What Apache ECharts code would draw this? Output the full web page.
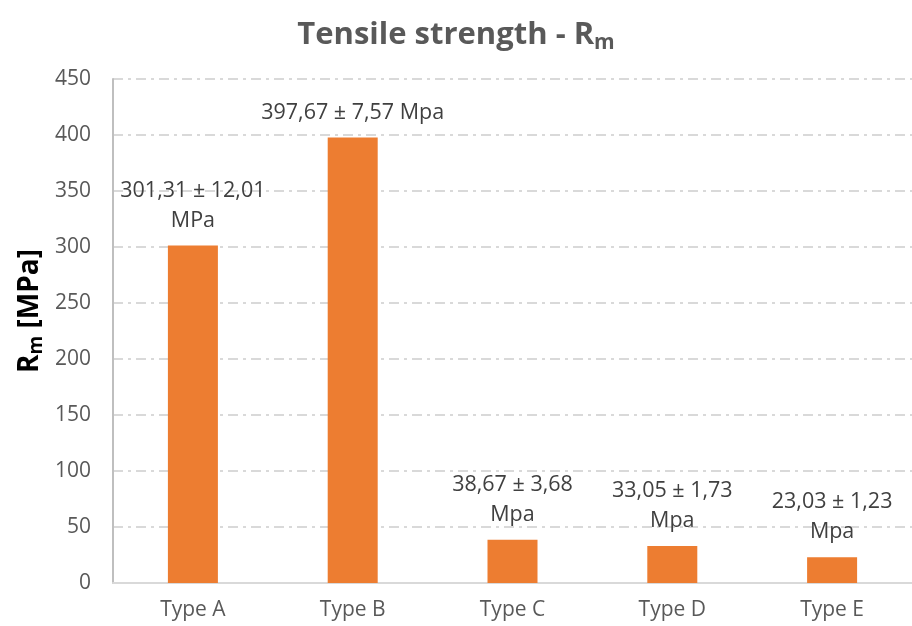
<!DOCTYPE html>
<html>
<head>
<meta charset="utf-8">
<script src="https://cdn.jsdelivr.net/npm/echarts@6/dist/echarts.min.js"></script>
<style>
  html, body { margin: 0; padding: 0; background: #fff; }
  #chart { width: 912px; height: 626px; }
</style>
</head>
<body>
<div id="chart"></div>
<script>
// Tensile strength per specimen type (mean ± standard deviation)
const categories = ['Type A', 'Type B', 'Type C', 'Type D', 'Type E'];
const strength = [301.31, 397.67, 38.67, 33.05, 23.03];
const deviation = [12.01, 7.57, 3.68, 1.73, 1.23];
const units = ['MPa', 'Mpa', 'Mpa', 'Mpa', 'Mpa'];
const unitOnSameLine = [false, true, false, false, false];
const yTicks = [0, 50, 100, 150, 200, 250, 300, 350, 400, 450];

const FONT = '"Open Sans", sans-serif';
const fmt = v => v.toFixed(2).replace('.', ',');
const labelText = i =>
  fmt(strength[i]) + ' \u00b1 ' + fmt(deviation[i]) +
  (unitOnSameLine[i] ? ' ' : '\n') + units[i];

const chart = echarts.init(document.getElementById('chart'), null, { renderer: 'canvas' });

chart.setOption({
  animation: false,
  backgroundColor: '#ffffff',
  textStyle: { fontFamily: FONT },
  title: {
    text: '{t|Tensile strength - R}{s|m}',
    left: 'center',
    top: 8,
    textStyle: {
      rich: {
        t: { fontFamily: FONT, fontSize: 31, fontWeight: 'bold', color: '#595959', lineHeight: 44 },
        s: { fontFamily: FONT, fontSize: 21, fontWeight: 'bold', color: '#595959', padding: [16, 0, 0, 0] }
      }
    }
  },
  graphic: [{
    type: 'text',
    x: 30,
    y: 311,
    rotation: Math.PI / 2,
    style: {
      text: '{t|R}{s|m}{t| [MPa]}',
      align: 'center',
      verticalAlign: 'middle',
      rich: {
        t: { fontFamily: FONT, fontSize: 28, fontWeight: 'bold', color: '#595959', lineHeight: 36 },
        s: { fontFamily: FONT, fontSize: 19, fontWeight: 'bold', color: '#595959', padding: [14, 0, 0, 0] }
      }
    }
  }],
  grid: { left: 113, right: -11, top: 79, bottom: 43, containLabel: false },
  xAxis: {
    type: 'category',
    data: categories,
    axisLine: { show: true, lineStyle: { color: '#d9d9d9', width: 2 } },
    axisTick: { show: false },
    axisLabel: { color: '#595959', fontSize: 21, fontFamily: FONT, margin: 17 }
  },
  yAxis: {
    type: 'value',
    min: yTicks[0],
    max: yTicks[yTicks.length - 1],
    interval: yTicks[1] - yTicks[0],
    axisLine: { show: true, lineStyle: { color: '#bfbfbf', width: 2 } },
    axisTick: { show: false },
    axisLabel: { color: '#595959', fontSize: 21, fontFamily: FONT, margin: 22 },
    splitLine: {
      show: true,
      lineStyle: { color: '#d9d9d9', width: 2, type: [10, 5, 3, 5] }
    }
  },
  series: [{
    type: 'bar',
    data: strength,
    barWidth: 50,
    itemStyle: { color: '#ED7D31' },
    label: {
      show: true,
      position: 'top',
      distance: 10,
      formatter: p => labelText(p.dataIndex),
      color: '#404040',
      fontSize: 21.5,
      fontFamily: FONT,
      lineHeight: 30,
      align: 'center'
    }
  }]
});
</script>
</body>
</html>
